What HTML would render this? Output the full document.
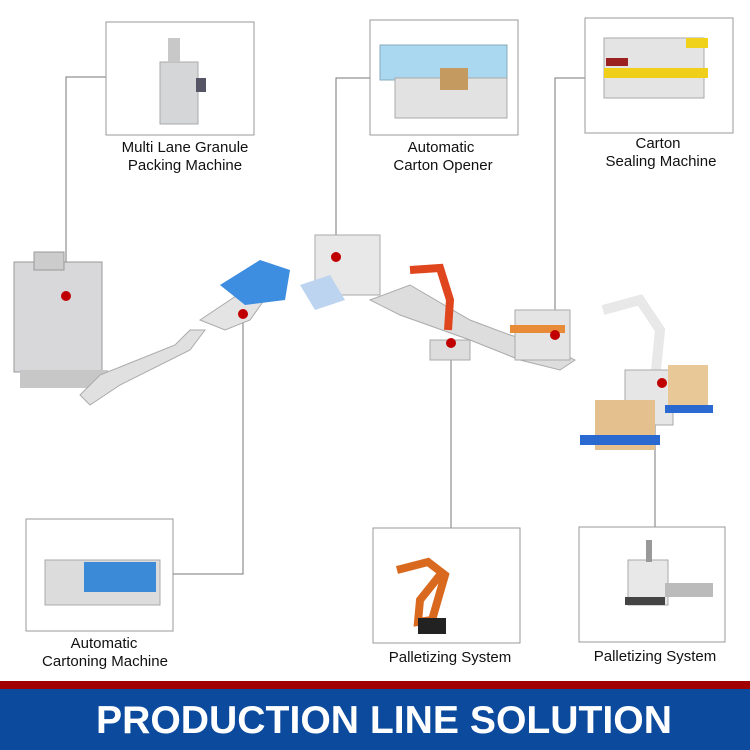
<!DOCTYPE html>
<html><head><meta charset="utf-8"><style>
html,body{margin:0;padding:0;background:#fff;}
svg{display:block}
text{font-family:"Liberation Sans",sans-serif;}
</style></head><body>
<svg width="750" height="750" viewBox="0 0 750 750" xmlns="http://www.w3.org/2000/svg">
<rect width="750" height="750" fill="#fff"/>
<!-- connectors -->
<g stroke="#777" stroke-width="1" fill="none">
<polyline points="106,77 66,77 66,296"/>
<polyline points="370,78 336,78 336,257"/>
<polyline points="585,78 555,78 555,335"/>
<polyline points="173,574 243,574 243,314"/>
<line x1="451" y1="528" x2="451" y2="343"/>
<line x1="655" y1="527" x2="655" y2="383"/>
</g>
<!-- frames -->
<g stroke="#999" stroke-width="1" fill="#fff">
<rect x="106" y="22" width="148" height="113"/>
<rect x="370" y="20" width="148" height="115"/>
<rect x="585" y="18" width="148" height="115"/>
<rect x="26" y="519" width="147" height="112"/>
<rect x="373" y="528" width="147" height="115"/>
<rect x="579" y="527" width="146" height="115"/>
</g>
<!-- box images (simplified) -->
<g>
<rect x="160" y="62" width="38" height="62" fill="#d4d6d8" stroke="#aaa"/>
<rect x="168" y="38" width="12" height="24" fill="#c8c8c8"/>
<rect x="196" y="78" width="10" height="14" fill="#556"/>
<rect x="380" y="45" width="127" height="35" fill="#a9d8f0" stroke="#8ab" />
<rect x="395" y="78" width="112" height="40" fill="#e2e2e2" stroke="#aaa"/>
<rect x="440" y="68" width="28" height="22" fill="#c49a60"/>
<rect x="604" y="38" width="100" height="60" fill="#e4e4e4" stroke="#aaa"/>
<rect x="604" y="68" width="104" height="10" fill="#f0cf1a"/>
<rect x="686" y="38" width="22" height="10" fill="#f0d21a"/>
<rect x="606" y="58" width="22" height="8" fill="#9b2020"/>
<rect x="45" y="560" width="115" height="45" fill="#dcdcdc" stroke="#aaa"/>
<rect x="84" y="562" width="72" height="30" fill="#3b8ad8"/>
<path d="M397 570 L428 562 L445 575 L432 620 L418 622 L420 600 L440 575" stroke="#d9691f" stroke-width="8" fill="none"/>
<rect x="418" y="618" width="28" height="16" fill="#222"/>
<rect x="628" y="560" width="40" height="45" fill="#e8e8e8" stroke="#aaa"/>
<rect x="646" y="540" width="6" height="22" fill="#999"/>
<rect x="665" y="583" width="48" height="14" fill="#bbb"/>
<rect x="625" y="597" width="40" height="8" fill="#444"/>
</g>
<!-- central line -->
<g>
<rect x="14" y="262" width="88" height="110" fill="#d8d8da" stroke="#999"/>
<rect x="34" y="252" width="30" height="18" fill="#ccc" stroke="#999"/>
<rect x="20" y="370" width="88" height="18" fill="#c7c7c7"/>
<polygon points="80,395 100,375 175,345 190,330 205,330 190,350 120,385 90,405" fill="#e0e0e0" stroke="#aaa"/>
<polygon points="200,320 245,290 275,285 250,320 225,330" fill="#e4e4e4" stroke="#aaa"/>
<polygon points="220,285 260,260 290,270 285,300 245,305" fill="#3d8ee0"/>
<rect x="315" y="235" width="65" height="60" fill="#e8e8e8" stroke="#aaa"/>
<polygon points="300,285 330,275 345,300 315,310" fill="#bcd4f0"/>
<polygon points="370,300 410,285 470,320 510,335 545,345 575,360 560,370 520,360 470,340 400,315" fill="#ddd" stroke="#aaa"/>
<path d="M410 270 L440 268 L450 300 L448 330" stroke="#e0461d" stroke-width="8" fill="none"/>
<rect x="430" y="340" width="40" height="20" fill="#ddd" stroke="#aaa"/>
<rect x="515" y="310" width="55" height="50" fill="#e4e4e4" stroke="#aaa"/>
<rect x="510" y="325" width="55" height="8" fill="#e88b38"/>
<path d="M603 310 L640 300 L660 330 L655 380" stroke="#e8e8e8" stroke-width="10" fill="none"/>
<rect x="625" y="370" width="48" height="55" fill="#e6e6e6" stroke="#aaa"/>
<rect x="595" y="400" width="60" height="50" fill="#e4c08e"/>
<rect x="668" y="365" width="40" height="45" fill="#e8c896"/>
<rect x="580" y="435" width="80" height="10" fill="#2a6ad0"/>
<rect x="665" y="405" width="48" height="8" fill="#2a6ad0"/>
</g>
<g fill="#c00000">
<circle cx="66" cy="296" r="5"/><circle cx="243" cy="314" r="5"/><circle cx="336" cy="257" r="5"/>
<circle cx="451" cy="343" r="5"/><circle cx="555" cy="335" r="5"/><circle cx="662" cy="383" r="5"/>
</g>
<!-- labels -->
<g font-size="15" fill="#111" text-anchor="middle">
<text x="185" y="152">Multi Lane Granule</text>
<text x="185" y="170">Packing Machine</text>
<text x="441" y="152">Automatic</text>
<text x="443" y="170">Carton Opener</text>
<text x="658" y="148">Carton</text>
<text x="661" y="166">Sealing Machine</text>
<text x="104" y="648">Automatic</text>
<text x="105" y="666">Cartoning Machine</text>
<text x="450" y="662">Palletizing System</text>
<text x="655" y="661">Palletizing System</text>
</g>
<!-- banner -->
<rect x="0" y="681" width="750" height="8" fill="#a00000"/>
<rect x="0" y="689" width="750" height="61" fill="#0b4a9d"/>
<text x="96" y="733" font-size="39" font-weight="bold" fill="#fff" textLength="576" lengthAdjust="spacingAndGlyphs">PRODUCTION LINE SOLUTION</text>
</svg>
</body></html>
